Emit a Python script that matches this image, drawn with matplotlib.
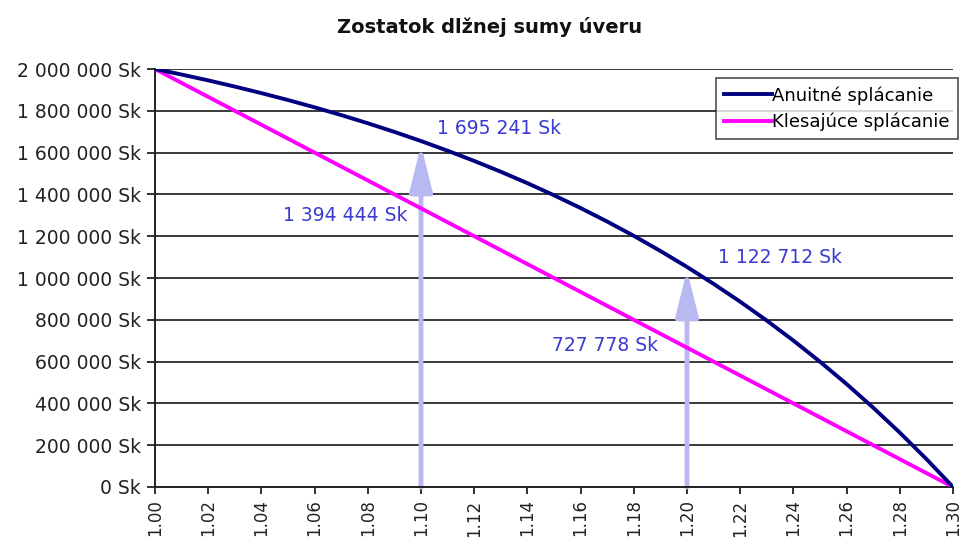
import matplotlib
matplotlib.use("Agg")
import matplotlib.pyplot as plt

# ---- data ----
years = list(range(0, 31))
annuity = [2000000, 1973500, 1945500, 1915900, 1884600, 1851500, 1816600, 1779500,
           1740400, 1699000, 1655300, 1609000, 1560100, 1508400, 1453700, 1395900,
           1334700, 1270000, 1201700, 1129300, 1052900, 972000, 886600, 796200,
           700600, 599500, 492600, 379600, 260100, 133800, 0]
declining = [2000000, 1933333, 1866667, 1800000, 1733333, 1666667, 1600000, 1533333,
             1466667, 1400000, 1333333, 1266667, 1200000, 1133333, 1066667, 1000000,
             933333, 866667, 800000, 733333, 666667, 600000, 533333, 466667,
             400000, 333333, 266667, 200000, 133333, 66667, 0]
xtick_pos = list(range(0, 31, 2))
xtick_labels = ["1.00", "1.02", "1.04", "1.06", "1.08", "1.10", "1.12", "1.14",
                "1.16", "1.18", "1.20", "1.22", "1.24", "1.26", "1.28", "1.30"]
ytick_vals = list(range(0, 2000001, 200000))
ytick_labels = ["0 Sk", "200 000 Sk", "400 000 Sk", "600 000 Sk", "800 000 Sk",
                "1 000 000 Sk", "1 200 000 Sk", "1 400 000 Sk", "1 600 000 Sk",
                "1 800 000 Sk", "2 000 000 Sk"]
series_names = ["Anuitné splácanie", "Klesajúce splácanie"]
title = "Zostatok dlžnej sumy úveru"
# arrows: (x, tip value)
arrows = [(10, 1636000), (20, 1038000)]
# labels: (text, x, value)
labels = [("1 695 241 Sk", 10.6, 1717000),
          ("1 394 444 Sk", 4.8, 1301000),
          ("1 122 712 Sk", 21.17, 1096000),
          ("727 778 Sk", 14.92, 675000)]

plt.rcParams['font.family'] = ['DejaVu Sans']

fig = plt.figure(figsize=(9.69, 5.48), dpi=100)
ax = fig.add_axes([155/969, 61/548, 798/969, 418/548])

for v in ytick_vals:
    ax.axhline(v, color="#2a2a2a", lw=1.3, zorder=1)

for xa, ya in arrows:
    ax.annotate("", xy=(xa, ya), xytext=(xa, 0),
                arrowprops=dict(arrowstyle="-|>,head_length=2.8,head_width=0.7",
                                color="#b9b9f2", lw=3.5, shrinkA=0, shrinkB=0),
                zorder=2)

ax.plot(years, annuity, color="#000080", lw=2.8, label=series_names[0], zorder=4)
ax.plot(years, declining, color="#ff00ff", lw=2.8, label=series_names[1], zorder=3)

for txt, lx, ly in labels:
    ax.text(lx, ly, txt, color="#3a3ad0", fontsize=13.5, ha="left", va="center", zorder=5)

ax.set_xlim(0, 30)
ax.set_ylim(0, 2000000)
ax.set_xticks(xtick_pos)
ax.set_xticklabels(xtick_labels, rotation=90, fontsize=12, color="#222222")
ax.set_yticks(ytick_vals)
ax.set_yticklabels(ytick_labels, fontsize=13.5, color="#222222")
ax.tick_params(axis="y", length=6, width=1.3, color="#222222", pad=4)
ax.tick_params(axis="x", length=5, width=1.3, color="#222222", pad=4)
for s in ["top", "right"]:
    ax.spines[s].set_visible(False)
for s in ["left", "bottom"]:
    ax.spines[s].set_color("#222222")
    ax.spines[s].set_linewidth(1.4)

leg = ax.legend(loc="upper right", bbox_to_anchor=(958/969, 1 - 78/548),
                bbox_transform=fig.transFigure, frameon=True, fancybox=False,
                fontsize=13, handlelength=2.7, handletextpad=0.0,
                borderpad=0.45, labelspacing=0.45, borderaxespad=0)
leg.get_frame().set_edgecolor("#222222")
leg.get_frame().set_linewidth(1.2)
leg.set_zorder(6)

fig.text(490/969, 1 - 27/548, title, ha="center", va="center",
         fontsize=14, fontweight="bold", color="#111111")

fig.savefig("out.png", dpi=100, facecolor="white")
